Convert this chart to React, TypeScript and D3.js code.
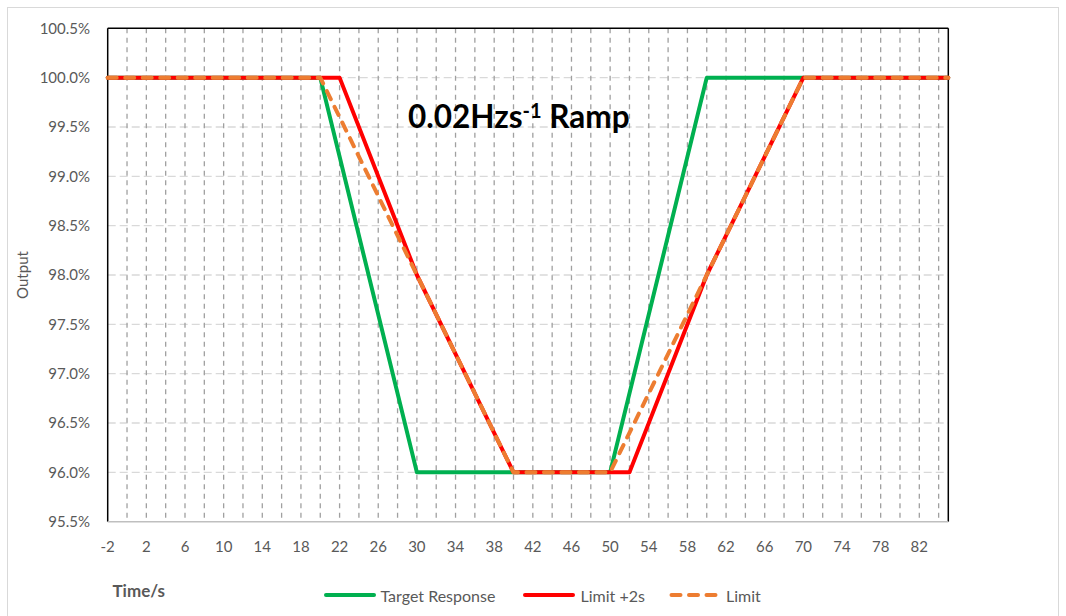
import React from "react";
import * as d3 from "d3";

// ---- data ----
const targetTimes = [-2, 20, 30, 50, 60, 85];
const targetValues = [100, 100, 96, 96, 100, 100];
const limit2Times = [-2, 22, 30, 40, 52, 60, 70, 85];
const limit2Values = [100, 100, 98, 96, 96, 98, 100, 100];
const limitTimes = [-2, 20, 40, 50, 70, 85];
const limitValues = [100, 100, 96, 96, 100, 100];
const xTickLabels = d3.range(-2, 83, 4);
const xGridValues = d3.range(0, 85, 2);
const yTickValues = d3.range(0, 11).map((i) => 95.5 + i * 0.5);
const seriesNames = ["Target Response", "Limit +2s", "Limit"];

const W = 1066;
const H = 616;
const FONT = "Lato, 'Open Sans', sans-serif";
const GRAY = "#595959";

export default function App() {
  const x = d3.scaleLinear().domain([-2, 85]).range([107.7, 948.3]);
  const y = d3.scaleLinear().domain([95.5, 100.5]).range([521.7, 28.3]);
  const line = d3
    .line<[number, number]>()
    .x((d) => x(d[0]))
    .y((d) => y(d[1]));
  const zip = (t: number[], v: number[]) => t.map((ti, i) => [ti, v[i]] as [number, number]);

  const series = [
    { name: seriesNames[0], pts: zip(targetTimes, targetValues), color: "#00B050", dash: undefined },
    { name: seriesNames[1], pts: zip(limit2Times, limit2Values), color: "#FF0000", dash: undefined },
    { name: seriesNames[2], pts: zip(limitTimes, limitValues), color: "#ED7D31", dash: "9 8.5" },
  ];

  const [x0, x1] = x.range();
  const [yb, yt] = y.range();

  const legend = [
    { lx: 324, tx: 380.5 },
    { lx: 523, tx: 580.5 },
    { lx: 669.5, tx: 726 },
  ];

  return (
    <div style={{ position: "absolute", left: 0, top: 0 }}>
      <svg width={W} height={H} style={{ display: "block", background: "#fff" }}>
        <rect x={7.5} y={7.5} width={1051} height={620} fill="#fff" stroke="#D9D9D9" strokeWidth={1} />
        {/* horizontal gridlines */}
        {yTickValues
          .filter((v) => v > 95.6 && v < 100.4)
          .map((v) => (
            <line key={"h" + v} x1={x0} x2={x1} y1={y(v)} y2={y(v)} stroke="#D9D9D9" strokeWidth={1.3} strokeDasharray="8 4" />
          ))}
        {/* vertical gridlines */}
        {xGridValues.map((v) => (
          <line key={"v" + v} x1={x(v)} x2={x(v)} y1={yt} y2={yb} stroke="#A0A0A0" strokeWidth={1.3} strokeDasharray="5 4.5" />
        ))}
        {/* plot border */}
        <line x1={x0} x2={x1} y1={yt} y2={yt} stroke="#000" strokeWidth={1.5} />
        <line x1={x0} x2={x0} y1={yt} y2={yb} stroke="#000" strokeWidth={1.5} />
        <line x1={x1} x2={x1} y1={yt} y2={yb} stroke="#000" strokeWidth={1.5} />
        <line x1={x0} x2={x1} y1={yb} y2={yb} stroke="#BFBFBF" strokeWidth={1.5} />

        {/* series */}
        {series.map((s) => (
          <path
            key={s.name}
            d={line(s.pts) || ""}
            fill="none"
            stroke={s.color}
            strokeWidth={4}
            strokeLinejoin="round"
            strokeLinecap="round"
            strokeDasharray={s.dash}
          />
        ))}

        {/* y tick labels */}
        {yTickValues.map((v) => (
          <text key={"yt" + v} x={90} y={y(v)} dy="0.36em" textAnchor="end" fontFamily={FONT} fontSize={15} fill={GRAY}>
            {v.toFixed(1) + "%"}
          </text>
        ))}
        {/* x tick labels */}
        {xTickLabels.map((v) => (
          <text key={"xt" + v} x={x(v)} y={551.5} textAnchor="middle" fontFamily={FONT} fontSize={15} fill={GRAY}>
            {String(v)}
          </text>
        ))}

        {/* axis titles */}
        <text
          transform="translate(28,275) rotate(-90)"
          textAnchor="middle"
          fontFamily={FONT}
          fontSize={15}
          fill={GRAY}
        >
          Output
        </text>
        <text x={112.5} y={596.5} fontFamily={FONT} fontSize={17} fontWeight="bold" fill={GRAY}>
          Time/s
        </text>

        {/* chart title */}
        <text x={408} y={128.3} fontFamily={FONT} fontSize={31.5} fontWeight="bold" fill="#000">
          0.02Hzs
          <tspan fontSize={20} dy={-10}>-1</tspan>
          <tspan dy={10}> Ramp</tspan>
        </text>

        {/* legend */}
        {series.map((s, i) => (
          <g key={"lg" + s.name}>
            <line
              x1={legend[i].lx + 2}
              x2={legend[i].lx + 50}
              y1={595}
              y2={595}
              stroke={s.color}
              strokeWidth={4}
              strokeLinecap="round"
              strokeDasharray={s.dash}
            />
            <text x={legend[i].tx} y={601.7} fontFamily={FONT} fontSize={16} fill={GRAY}>
              {s.name}
            </text>
          </g>
        ))}
      </svg>
    </div>
  );
}
